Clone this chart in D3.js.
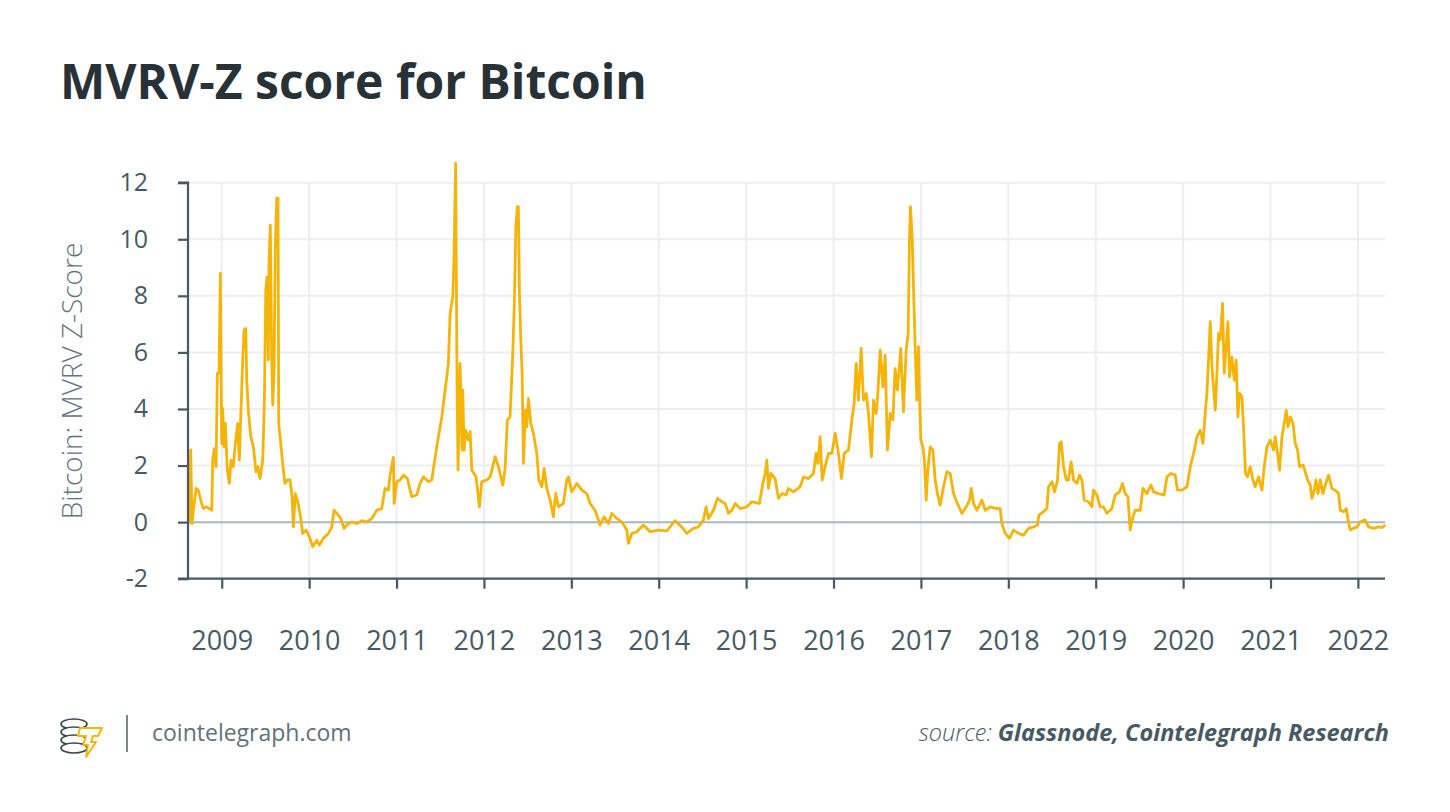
<!DOCTYPE html>
<html>
<head>
<meta charset="utf-8">
<script src="https://cdn.jsdelivr.net/npm/d3@7"></script>
<style>
  body { margin: 0; background: #fff; }
  svg text { font-family: "Open Sans", sans-serif; }
</style>
</head>
<body>
<svg id="canvas" width="1450" height="812"></svg>
<script>
// decimal years
const years = [
  2008.629,2008.645,2008.660,2008.675,2008.706,2008.732,2008.760,2008.789,2008.828,2008.886,
  2008.897,2008.915,2008.935,2008.950,2008.969,2008.984,2009.000,2009.011,2009.026,2009.041,
  2009.064,2009.087,2009.106,2009.133,2009.152,2009.183,2009.201,2009.217,2009.240,2009.255,
  2009.275,2009.286,2009.304,2009.332,2009.362,2009.393,2009.415,2009.438,2009.469,2009.488,
  2009.504,2009.518,2009.533,2009.541,2009.556,2009.572,2009.584,2009.599,2009.613,2009.629,
  2009.644,2009.652,2009.675,2009.705,2009.724,2009.751,2009.782,2009.805,2009.819,2009.842,
  2009.865,2009.896,2009.927,2009.965,2010.003,2010.041,2010.087,2010.117,2010.163,2010.220,
  2010.259,2010.285,2010.316,2010.362,2010.400,2010.431,2010.488,2010.545,2010.602,2010.659,
  2010.717,2010.774,2010.831,2010.869,2010.907,2010.926,2010.964,2010.972,2011.003,2011.040,
  2011.078,2011.124,2011.174,2011.232,2011.269,2011.307,2011.364,2011.403,2011.460,2011.518,
  2011.575,2011.593,2011.613,2011.644,2011.658,2011.676,2011.693,2011.704,2011.727,2011.750,
  2011.758,2011.773,2011.790,2011.822,2011.842,2011.861,2011.910,2011.948,2011.975,2012.033,
  2012.071,2012.128,2012.166,2012.216,2012.242,2012.268,2012.299,2012.330,2012.349,2012.365,
  2012.383,2012.394,2012.406,2012.422,2012.437,2012.452,2012.474,2012.490,2012.509,2012.536,
  2012.566,2012.605,2012.628,2012.662,2012.688,2012.719,2012.757,2012.795,2012.822,2012.852,
  2012.909,2012.948,2012.967,2013.005,2013.063,2013.120,2013.177,2013.215,2013.272,2013.329,
  2013.375,2013.424,2013.463,2013.520,2013.578,2013.635,2013.653,2013.692,2013.749,2013.825,
  2013.901,2013.996,2014.093,2014.187,2014.264,2014.321,2014.397,2014.454,2014.511,2014.542,
  2014.569,2014.626,2014.672,2014.722,2014.760,2014.798,2014.837,2014.875,2014.932,2015.008,
  2015.066,2015.152,2015.191,2015.218,2015.237,2015.256,2015.283,2015.332,2015.370,2015.409,
  2015.458,2015.484,2015.541,2015.618,2015.656,2015.713,2015.770,2015.801,2015.821,2015.847,
  2015.870,2015.904,2015.942,2015.981,2016.019,2016.057,2016.091,2016.122,2016.171,2016.210,
  2016.236,2016.259,2016.285,2016.316,2016.343,2016.374,2016.400,2016.434,2016.457,2016.488,
  2016.507,2016.534,2016.565,2016.591,2016.617,2016.648,2016.679,2016.705,2016.731,2016.770,
  2016.800,2016.831,2016.854,2016.869,2016.880,2016.900,2016.915,2016.934,2016.953,2016.972,
  2016.983,2016.999,2017.022,2017.040,2017.060,2017.079,2017.106,2017.137,2017.163,2017.189,
  2017.220,2017.258,2017.297,2017.335,2017.373,2017.418,2017.469,2017.518,2017.556,2017.576,
  2017.602,2017.640,2017.698,2017.736,2017.791,2017.869,2017.907,2017.926,2017.964,2018.013,
  2018.059,2018.116,2018.174,2018.231,2018.288,2018.334,2018.350,2018.403,2018.441,2018.460,
  2018.499,2018.529,2018.563,2018.586,2018.605,2018.632,2018.663,2018.688,2018.719,2018.746,
  2018.785,2018.814,2018.842,2018.868,2018.918,2018.956,2018.975,2019.013,2019.051,2019.089,
  2019.128,2019.185,2019.222,2019.272,2019.306,2019.337,2019.368,2019.394,2019.426,2019.452,
  2019.509,2019.540,2019.586,2019.632,2019.661,2019.718,2019.783,2019.815,2019.860,2019.910,
  2019.936,2019.986,2020.044,2020.082,2020.120,2020.158,2020.196,2020.227,2020.253,2020.272,
  2020.291,2020.310,2020.330,2020.348,2020.368,2020.387,2020.405,2020.424,2020.451,2020.470,
  2020.490,2020.513,2020.531,2020.558,2020.585,2020.607,2020.627,2020.645,2020.673,2020.691,
  2020.714,2020.737,2020.768,2020.799,2020.825,2020.863,2020.902,2020.928,2020.959,2020.997,
  2021.035,2021.054,2021.081,2021.103,2021.131,2021.157,2021.180,2021.200,2021.226,2021.257,
  2021.283,2021.310,2021.332,2021.371,2021.398,2021.424,2021.455,2021.474,2021.501,2021.520,
  2021.543,2021.569,2021.600,2021.626,2021.664,2021.703,2021.741,2021.779,2021.798,2021.836,
  2021.867,2021.887,2021.913,2021.951,2021.990,2022.027,2022.084,2022.122,2022.179,2022.237,
  2022.276,2022.313
]

const zscore = [
  -0.05,2.55,-0.05,0.42,1.19,1.13,0.78,0.48,0.54,0.42,
  2.19,2.60,1.96,5.26,5.26,8.79,2.78,4.02,2.66,3.49,
  1.84,1.37,2.19,1.96,2.66,3.49,2.19,3.67,5.73,6.79,
  6.85,5.02,3.96,3.02,2.66,1.78,1.96,1.54,2.19,4.31,
  8.20,8.67,5.73,9.15,10.50,5.73,4.14,5.49,9.73,11.45,
  11.45,3.49,2.78,1.84,1.37,1.49,1.49,0.90,-0.17,1.01,
  0.78,0.31,-0.40,-0.28,-0.52,-0.87,-0.64,-0.81,-0.57,-0.40,
  -0.17,0.42,0.31,0.13,-0.22,-0.10,0.01,-0.05,0.05,0.00,
  0.13,0.42,0.48,1.19,1.13,1.66,2.29,0.66,1.43,1.49,
  1.66,1.54,0.90,0.96,1.37,1.60,1.43,1.49,2.66,3.72,
  5.14,5.61,7.38,7.97,9.38,12.68,4.78,1.84,5.61,2.55,
  4.67,2.55,3.25,2.90,3.20,1.84,1.60,0.54,1.43,1.49,
  1.60,2.31,1.96,1.31,1.90,3.61,3.72,5.96,7.85,10.44,
  11.15,11.15,8.09,6.44,5.26,2.08,3.96,3.37,4.37,3.49,
  3.14,2.43,1.49,1.25,1.90,1.19,0.78,0.19,1.02,0.54,
  0.66,1.49,1.60,1.07,1.37,1.13,1.01,0.66,0.42,-0.10,
  0.19,-0.05,0.31,0.13,0.00,-0.28,-0.75,-0.40,-0.34,-0.10,
  -0.34,-0.28,-0.31,0.05,-0.17,-0.40,-0.22,-0.17,0.07,0.54,
  0.13,0.42,0.84,0.72,0.66,0.31,0.42,0.66,0.48,0.54,
  0.72,0.66,1.37,1.72,2.19,1.19,1.72,1.54,0.84,1.01,
  0.96,1.19,1.07,1.25,1.60,1.54,1.72,2.43,2.08,3.02,
  1.49,1.96,2.43,2.43,3.14,2.43,1.54,2.43,2.55,3.61,
  4.20,5.61,4.31,6.14,4.31,4.55,3.84,2.31,4.31,3.84,
  4.55,6.08,4.78,5.90,2.55,3.84,3.61,5.43,4.67,6.14,
  3.90,6.08,6.67,9.97,11.15,10.09,8.32,6.20,4.31,6.20,
  4.55,2.90,2.66,2.19,0.78,1.84,2.66,2.55,1.49,1.01,
  0.60,1.25,1.78,1.72,1.01,0.66,0.31,0.54,0.78,1.19,
  0.66,0.42,0.78,0.42,0.54,0.48,0.48,-0.05,-0.40,-0.57,
  -0.28,-0.40,-0.46,-0.22,-0.17,-0.10,0.25,0.37,0.48,1.25,
  1.43,1.07,1.49,2.78,2.84,1.96,1.49,1.49,2.13,1.49,
  1.37,1.66,1.49,0.78,0.72,0.54,1.13,0.96,0.54,0.54,
  0.31,0.48,0.96,1.07,1.37,1.01,0.90,-0.28,0.19,0.42,
  0.42,1.19,1.01,1.31,1.07,1.01,0.96,1.60,1.72,1.66,
  1.13,1.13,1.25,1.96,2.43,3.02,3.25,2.78,3.84,4.55,
  5.73,7.09,5.49,4.78,3.96,5.26,6.67,6.44,7.73,5.26,
  6.08,7.09,5.14,5.84,5.02,5.73,3.72,4.55,4.43,3.37,
  1.72,1.60,1.96,1.49,1.25,1.60,1.13,1.96,2.66,2.90,
  2.55,3.02,2.43,1.84,3.02,3.49,3.96,3.37,3.72,3.49,
  2.78,2.55,1.96,2.02,1.78,1.49,1.31,0.84,1.13,1.49,
  1.01,1.49,1.01,1.31,1.66,1.19,1.13,1.01,0.42,0.37,
  0.48,0.07,-0.28,-0.22,-0.17,0.01,0.07,-0.17,-0.22,-0.17,
  -0.19,-0.10
]

const yearTicks = [2009,2010,2011,2012,2013,2014,2015,2016,2017,2018,2019,2020,2021,2022]
const scoreTicks = [-2,0,2,4,6,8,10,12]

const data = years.map((y, i) => ({ year: y, value: zscore[i] }))

let canvas = d3.select("#canvas")

let x = d3.scaleLinear()
          .domain([2008.614, 2022.31])
          .range([188, 1385])
let y = d3.scaleLinear()
          .domain([-2, 12])
          .range([578.7, 182.7])

// title
canvas.append("text")
      .text("MVRV-Z score for Bitcoin")
      .attr("x", 60)
      .attr("y", 99)
      .attr("font-size", 48)
      .attr("font-weight", 700)
      .attr("fill", "#263238")

// grid
canvas.append("g")
      .selectAll("line")
      .data(scoreTicks.filter(d => d !== -2 && d !== 0))
      .enter()
      .append("line")
      .attr("x1", 188).attr("x2", 1385)
      .attr("y1", d => y(d)).attr("y2", d => y(d))
      .attr("stroke", "#eeeeee")
      .attr("stroke-width", 2)
canvas.append("g")
      .selectAll("line")
      .data(yearTicks)
      .enter()
      .append("line")
      .attr("x1", d => x(d)).attr("x2", d => x(d))
      .attr("y1", y(12)).attr("y2", y(-2))
      .attr("stroke", "#eceeef")
      .attr("stroke-width", 2)

// zero line
canvas.append("line")
      .attr("x1", 188).attr("x2", 1385)
      .attr("y1", y(0)).attr("y2", y(0))
      .attr("stroke", "#a9b8c0")
      .attr("stroke-width", 2)

// series
let line = d3.line()
             .x(d => x(d.year))
             .y(d => y(d.value))
canvas.append("path")
      .datum(data)
      .attr("d", line)
      .attr("fill", "none")
      .attr("stroke", "#f5b40a")
      .attr("stroke-width", 2.8)
      .attr("stroke-linejoin", "round")

// axes
const yAxis = d3.axisLeft(y)
                .tickValues(scoreTicks)
                .tickFormat(d => String(d))
                .tickSize(10)
                .tickPadding(30)
const xAxis = d3.axisBottom(x)
                .tickValues(yearTicks)
                .tickFormat(d3.format("d"))
                .tickSize(10)
                .tickPadding(42)

const gy = canvas.append("g")
                 .attr("transform", "translate(188,0)")
                 .call(yAxis)
const gx = canvas.append("g")
                 .attr("transform", `translate(0,${y(-2)})`)
                 .call(xAxis)

;[gx, gy].forEach(g => {
  g.select(".domain").attr("stroke", "#455a64").attr("stroke-width", 2.2)
  g.selectAll(".tick line").attr("stroke", "#455a64").attr("stroke-width", 2.2)
  g.selectAll(".tick text")
   .attr("fill", "#455a64")
   .attr("font-family", "Open Sans")
})
gy.selectAll(".tick text").attr("font-size", 25)
gx.selectAll(".tick text").attr("font-size", 27)
gy.select(".domain").attr("d", `M-10,${y(12)}H0V${y(-2)}H-10`)
gx.select(".domain").attr("d", `M188,0H1385`)

canvas.append("text")
      .text("Bitcoin: MVRV Z-Score")
      .attr("transform", "translate(82,381) rotate(-90)")
      .attr("text-anchor", "middle")
      .attr("font-size", 28)
      .attr("font-weight", 300)
      .attr("fill", "#607480")

// footer
const logo = canvas.append("g").attr("transform", "translate(60,718)")
;[0, 8, 16, 24].forEach(dy => {
  logo.append("ellipse")
      .attr("cx", 14).attr("cy", 6 + dy)
      .attr("rx", 13).attr("ry", 5)
      .attr("fill", "#fff")
      .attr("stroke", "#37474f")
      .attr("stroke-width", 1.6)
})
logo.append("path")
    .attr("d", "M20,10 L42,10 L38,18 L33,18 L31,24 L36,24 L26,39 L28,27 L23,27 L26,18 L18,18 Z")
    .attr("fill", "#fff")
    .attr("stroke", "#f5b40a")
    .attr("stroke-width", 2)
    .attr("stroke-linejoin", "round")

canvas.append("line")
      .attr("x1", 127).attr("x2", 127)
      .attr("y1", 715).attr("y2", 752)
      .attr("stroke", "#78868e")
      .attr("stroke-width", 2)

canvas.append("text")
      .text("cointelegraph.com")
      .attr("x", 152)
      .attr("y", 741)
      .attr("font-size", 23)
      .attr("font-weight", 400)
      .attr("fill", "#5f717c")

const src = canvas.append("text")
                  .attr("x", 1389)
                  .attr("y", 741)
                  .attr("text-anchor", "end")
                  .attr("font-size", 23.5)
                  .attr("font-style", "italic")
                  .attr("fill", "#455a64")
src.append("tspan").text("source: ").attr("font-weight", 300)
src.append("tspan").text("Glassnode, Cointelegraph Research").attr("font-weight", 700)
</script>
</body>
</html>
